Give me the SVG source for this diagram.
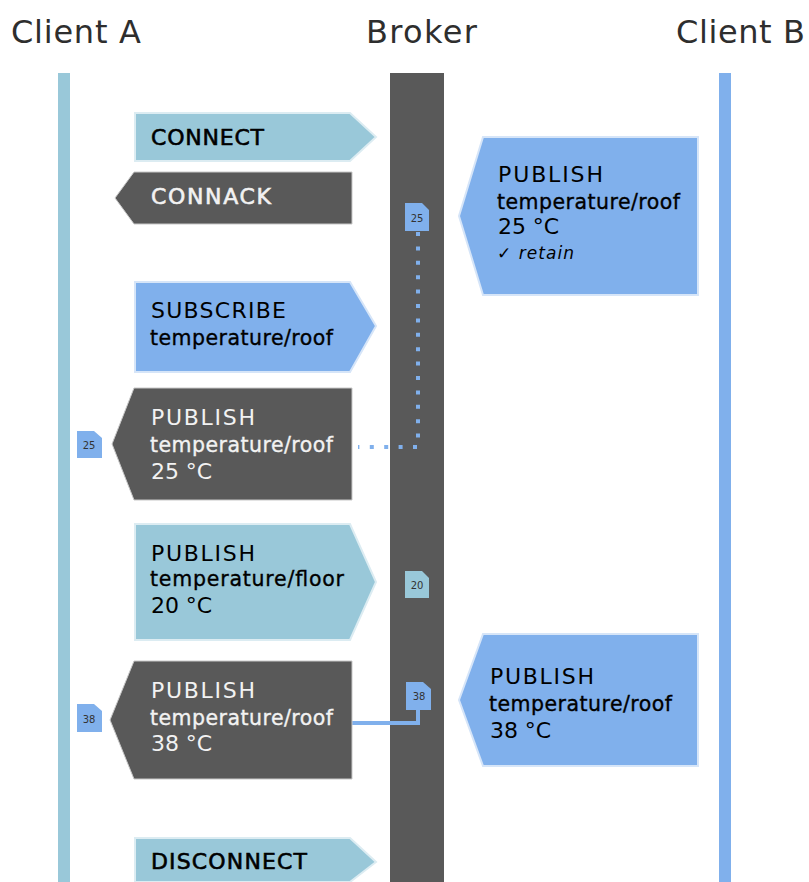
<svg xmlns="http://www.w3.org/2000/svg" width="809" height="882" viewBox="0 0 809 882">
<style>
text{font-family:"DejaVu Sans",sans-serif}
.h{font-size:32px;fill:#2e2e2e}
.t{font-size:22px}
.s{font-size:20.5px;stroke-width:.35px}
.d{fill:#000}
.d.s{stroke:#000}
.w{fill:#f2f2f2}
.w.s{stroke:#f2f2f2}
.b{stroke-width:.6px}
.d.b{stroke:#000}
.w.b{stroke:#f2f2f2}
.teal{fill:#99c8d9;stroke:#dcecf2;stroke-width:2}
.blue{fill:#80b0ec;stroke:#d6e5f8;stroke-width:2}
.dark{fill:#595959;stroke:#c8c8c8;stroke-width:1}
.doc{font-size:10px;fill:#333;text-anchor:middle}
</style>
<rect width="809" height="882" fill="#fff"/>
<g id="client-a"><text class="h" x="11" y="43" textLength="130">Client A</text><rect x="58" y="73" width="12" height="809" fill="#99c8d9"/></g>
<g id="broker"><text class="h" x="366" y="43" textLength="111">Broker</text><rect x="390" y="73" width="54" height="809" fill="#595959"/></g>
<g id="client-b"><text class="h" x="676" y="43" textLength="129">Client B</text><rect x="719" y="73" width="12" height="809" fill="#80b0ec"/></g>
<g id="connectors" fill="none" stroke="#80b0ec">
<path d="M418 232V447H358" stroke-width="4" stroke-dasharray="4 10.4"/>
<path d="M352 723H418V708" stroke-width="4"/>
</g>
<g id="connect"><path class="teal" d="M135 113H350L376 137L350 161H135Z"/><text class="t d b" x="151" y="145" textLength="113">CONNECT</text></g>
<g id="connack"><path class="dark" d="M352 172H134L115 198L134 224H352Z"/><text class="t w b" x="151" y="204" textLength="120">CONNACK</text></g>
<g id="publish-25-in"><path class="blue" d="M698 137H483L459 216L483 295H698Z"/>
<text class="t d" x="498" y="182" textLength="105">PUBLISH</text><text class="s d" x="497" y="209" textLength="183">temperature/roof</text><text class="t d" x="498" y="234" textLength="61">25 °C</text><text x="497" y="259" font-size="17" font-style="italic" fill="#000" textLength="77">✓ retain</text></g>
<g id="doc-25"><path d="M405 203H422L429 210V231H405Z" fill="#80b0ec"/><text class="doc" x="417" y="222">25</text></g>
<g id="subscribe"><path class="blue" d="M135 282H350L376 326L350 372H135Z"/><text class="t d" x="151" y="318" textLength="135">SUBSCRIBE</text><text class="s d" x="150" y="345" textLength="183">temperature/roof</text></g>
<g id="publish-25-out"><path class="dark" d="M352 388H134L112 444L134 500H352Z"/><text class="t w" x="151" y="425" textLength="104">PUBLISH</text><text class="s w" x="150" y="452" textLength="183">temperature/roof</text><text class="t w" x="151" y="479" textLength="61">25 °C</text></g>
<g id="doc-25-a"><path d="M77 431H94L102 438V458H77Z" fill="#80b0ec"/><text class="doc" x="89" y="449">25</text></g>
<g id="publish-20"><path class="teal" d="M135 524H350L376 582L350 640H135Z"/><text class="t d" x="151" y="561" textLength="104">PUBLISH</text><text class="s d" x="150" y="586" textLength="194">temperature/floor</text><text class="t d" x="151" y="613" textLength="61">20 °C</text></g>
<g id="doc-20"><path d="M405 571H422L429 578V598H405Z" fill="#99c8d9"/><text class="doc" x="417" y="589">20</text></g>
<g id="publish-38-out"><path class="dark" d="M352 661H134L110 720L134 779H352Z"/><text class="t w" x="151" y="698" textLength="104">PUBLISH</text><text class="s w" x="150" y="725" textLength="183">temperature/roof</text><text class="t w" x="151" y="751" textLength="61">38 °C</text></g>
<g id="doc-38-a"><path d="M77 704H94L102 711V732H77Z" fill="#80b0ec"/><text class="doc" x="89" y="723">38</text></g>
<g id="doc-38"><path d="M406 682H423L431 689V710H406Z" fill="#80b0ec"/><text class="doc" x="419" y="700">38</text></g>
<g id="publish-38-in"><path class="blue" d="M698 634H483L459 700L483 766H698Z"/><text class="t d" x="490" y="684" textLength="104">PUBLISH</text><text class="s d" x="489" y="711" textLength="183">temperature/roof</text><text class="t d" x="490" y="738" textLength="61">38 °C</text></g>
<g id="disconnect"><path class="teal" d="M135 838H350L376 862L350 882H135Z"/><text class="t d b" x="151" y="869" textLength="156">DISCONNECT</text></g>
</svg>
